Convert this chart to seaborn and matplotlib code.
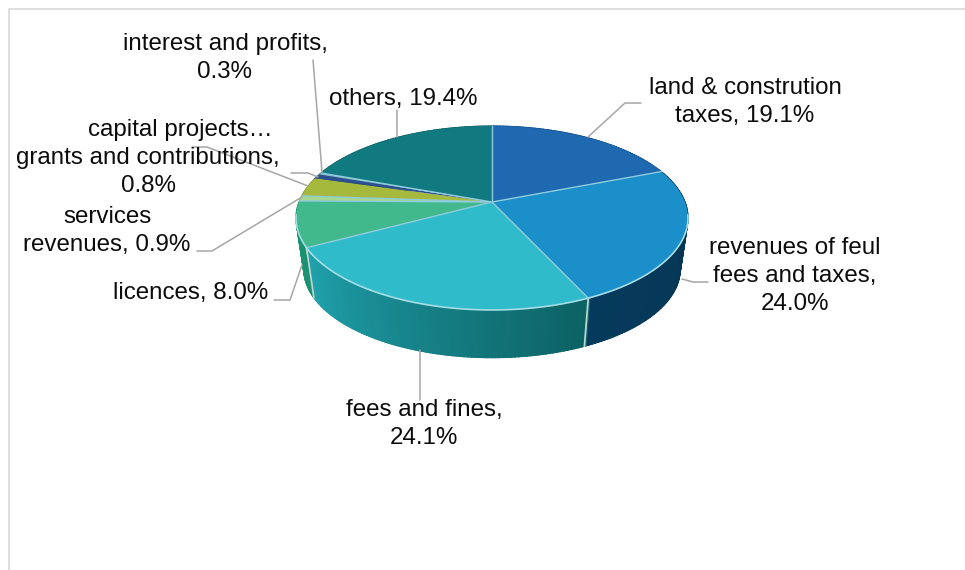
import numpy as np
import matplotlib
matplotlib.use('Agg')
import matplotlib.pyplot as plt
import seaborn as sns

# slice shares in percent, clockwise from 12 o'clock
slice_names = ['land', 'revenues', 'fees', 'licences', 'services',
               'capital', 'grants', 'interest', 'others']
# capital is not printed in the chart, it is the rest of the 100%
slice_shares = [19.1, 24.0, 24.1, 8.0, 0.9, 3.4, 0.8, 0.3, 19.4]

top_colors = ['#1e69b0', '#1b8fc9', '#30bbcb', '#41b98c', '#a6d88f',
              '#a5b93c', '#2d4f8e', '#86bcd0', '#117a80']
wall_colors = [['#12508a', '#12508a'], ['#063a5c', '#053552'],
               ['#20a3ae', '#0c6163'], ['#1d9e78', '#1a9070'],
               ['#7ab070', '#7ab070'], ['#8a9a30', '#8a9a30'],
               ['#24406f', '#24406f'], ['#7a9a8a', '#7a9a8a'],
               ['#0f6268', '#0f6268']]

label_texts = ['others, 19.4%', 'land & constrution\ntaxes, 19.1%',
               'revenues of feul\nfees and taxes,\n24.0%',
               'fees and fines,\n24.1%', 'licences, 8.0%',
               'services\nrevenues, 0.9%', 'capital projects…',
               'grants and contributions,\n0.8%',
               'interest and profits,\n0.3%']
label_xy = [(403, 99), (745, 102), (795, 276), (424, 424), (191, 293),
            (107, 231), (180, 130), (148, 172), (225, 58)]

leaders = [[(397, 137), (397, 110)],
           [(588, 137), (625, 103), (641, 103)],
           [(682, 279), (693, 282), (708, 282)],
           [(420, 350), (420, 400)],
           [(302, 265), (290, 300), (274, 300)],
           [(302, 197), (212, 251), (197, 251)],
           [(308, 186), (207, 147), (192, 147)],
           [(318, 177), (308, 173), (291, 173)],
           [(322, 172), (313, 60)]]

# perspective of the tilted disc, in pixels
CX, CY = 492, 202
A, B, K = 193, 89.2, 0.174
WALL_SCALE, WALL_DROP = 0.96, 52
SEAM = '#8fcbdc'


def rim(theta, scale=1.0, drop=0.0):
    # point(s) on the disc edge, theta in degrees
    t = np.radians(theta)
    w = 1 + K * np.sin(t)
    return (CX + scale * A * np.cos(t) / w,
            CY - scale * B * np.sin(t) / w + drop)


def main():
    sns.set_theme(style='white')
    plt.rcParams['font.family'] = ['Liberation Sans', 'DejaVu Sans']

    fig = plt.figure(figsize=(9.65, 5.70), dpi=100)
    ax = fig.add_axes([0, 0, 1, 1])
    ax.set_xlim(0, 965)
    ax.set_ylim(570, 0)
    ax.axis('off')

    # chart area border, only left and top are in the picture
    ax.plot([9, 9, 965], [570, 9, 9], color='#dedede', lw=1.4, zorder=1)

    degrees = np.array(slice_shares) * 3.6
    ends = 90 - np.cumsum(degrees)
    starts = ends + degrees

    # side wall first, the top covers whatever is at the back
    for start, end, cols in zip(starts, ends, wall_colors):
        n = max(int(start - end), 2)
        shades = sns.blend_palette(cols, n)
        edges = np.linspace(end, start, n + 1)
        for i in range(n):
            arc = np.linspace(edges[i], edges[i + 1] + 0.5, 4)
            x1, y1 = rim(arc)
            x2, y2 = rim(arc[::-1], WALL_SCALE, WALL_DROP)
            ax.fill(np.r_[x1, x2], np.r_[y1, y2], color=shades[i],
                    lw=0.8, zorder=2)

    # pale seams on the wall
    for theta in ends[[1, 2]]:
        x1, y1 = rim(theta)
        x2, y2 = rim(theta, WALL_SCALE, WALL_DROP)
        ax.plot([x1, x2], [y1, y2], color='#b9d3d6', lw=1.3, zorder=3)

    # top of the disc
    for start, end, col in zip(starts, ends, top_colors):
        arc = np.linspace(start, end, max(int(start - end) * 2, 6))
        x, y = rim(arc)
        ax.fill(np.r_[CX, x], np.r_[CY, y], facecolor=col, lw=0, zorder=4)

    # seams between slices, none around the thin dark one
    for i, theta in enumerate(ends):
        if slice_names[i] in ('capital', 'grants'):
            continue
        x, y = rim(theta)
        ax.plot([CX, x], [CY, y], color=SEAM, lw=1.0, zorder=5)

    # highlight along the front of the rim
    x, y = rim(np.linspace(-172, -8, 200))
    ax.plot(x, y, color='#a6dde4', lw=1.2, zorder=5)

    for pts in leaders:
        xs, ys = zip(*pts)
        ax.plot(xs, ys, color='#a6a6a6', lw=1.1, zorder=6)

    for txt, (x, y) in zip(label_texts, label_xy):
        ax.text(x, y, txt, ha='center', va='center', fontsize=17.4,
                color='#0c0c0c', linespacing=1.35, zorder=7)

    plt.savefig('out.png', dpi=100, facecolor='white')


main()
